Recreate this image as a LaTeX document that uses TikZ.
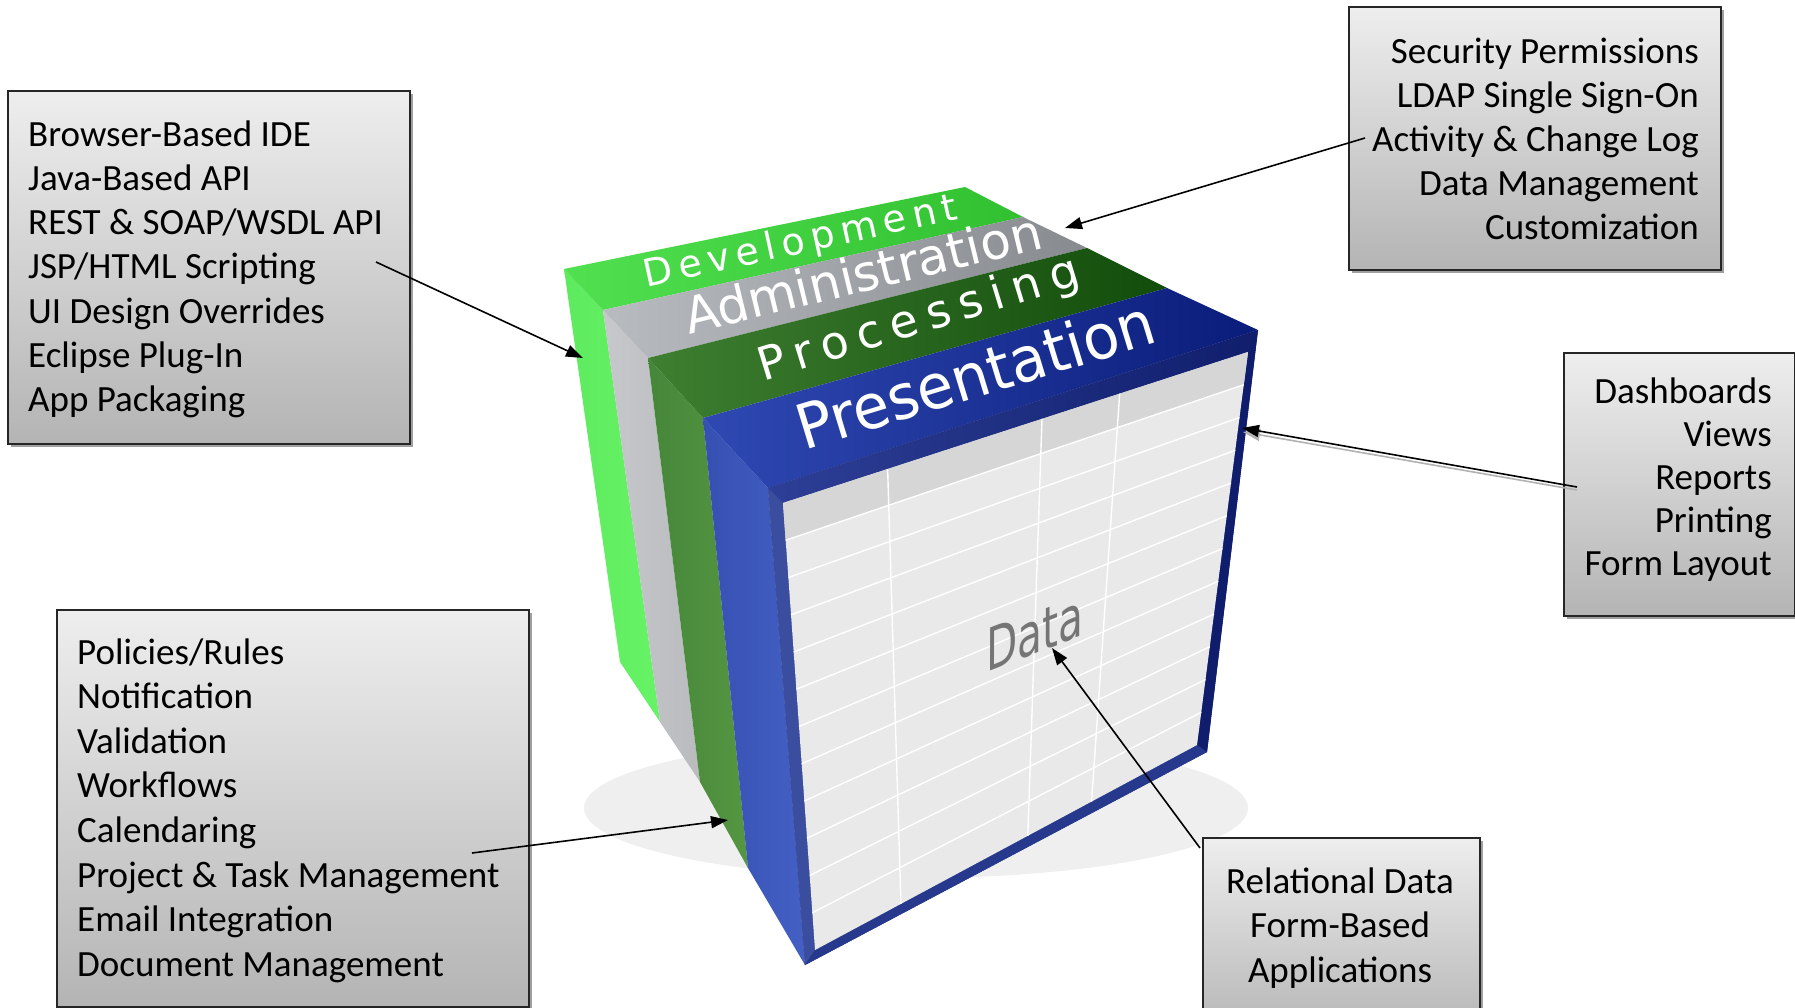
\documentclass[tikz,border=0pt]{standalone}
\usepackage{fontspec}
\setmainfont{Carlito}
\newfontfamily\cubefont{DejaVu Sans}
\newfontfamily\cubedev[LetterSpace=17]{DejaVu Sans}
\newfontfamily\cubeproc[LetterSpace=21]{DejaVu Sans}
\usetikzlibrary{arrows.meta,calc,shadows}
\definecolor{boxtop}{HTML}{EEEEEE}
\definecolor{boxbot}{HTML}{B4B4B4}
\definecolor{devtopA}{HTML}{50E050}
\definecolor{devtopB}{HTML}{30C030}
\definecolor{devsideA}{HTML}{5EEA5E}
\definecolor{devsideB}{HTML}{66F466}
\definecolor{admtopA}{HTML}{B8BBBF}
\definecolor{admtopB}{HTML}{878B8F}
\definecolor{admsideA}{HTML}{B9BBBF}
\definecolor{admsideB}{HTML}{C6C8CC}
\definecolor{proctopA}{HTML}{3E7F31}
\definecolor{proctopB}{HTML}{124C0B}
\definecolor{procsideA}{HTML}{46863A}
\definecolor{procsideB}{HTML}{559642}
\definecolor{prestopA}{HTML}{2F49B3}
\definecolor{prestopB}{HTML}{0A1C7A}
\definecolor{pressideA}{HTML}{3650B2}
\definecolor{pressideB}{HTML}{4460C4}
\definecolor{framenavy}{HTML}{1A2C80}
\definecolor{frametopA}{HTML}{2D3F96}
\definecolor{frametopB}{HTML}{101E6C}
\definecolor{frameleft}{HTML}{3A4D9F}
\definecolor{frameright}{HTML}{0F1D6C}
\definecolor{framebottom}{HTML}{26398C}
\definecolor{cellfill}{HTML}{E9E9E9}
\definecolor{headfill}{HTML}{D6D6D6}
\definecolor{datagray}{HTML}{757575}
\definecolor{floorshadow}{HTML}{EFEFEF}
\begin{document}
\begin{tikzpicture}[x=1pt,y=-1pt,
  infobox/.style={draw=black!85, line width=1.8pt, top color=boxtop, bottom color=boxbot,
    anchor=north west, inner sep=0pt,
    drop shadow={shadow xshift=3.5pt, shadow yshift=-3.5pt, fill=gray!75, opacity=1}},
  boxtext/.style={inner sep=0pt},
  conn/.style={line width=1.6pt, black, -{Triangle[length=17pt,width=12pt]}},
  connghost/.style={line width=1.6pt, gray!60, -{Triangle[length=17pt,width=12pt]}},
  cubelabel/.style={text=white, inner sep=0pt, anchor=base},
  gridline/.style={white, line width=1.4pt}]
\useasboundingbox (0,0) rectangle (1795,1007);
\fill[white] (0,0) rectangle (1795,1007);

% floor shadow
\fill[floorshadow] (916,808) ellipse [x radius=332pt, y radius=70pt];

% cube corner points
\coordinate (T0) at (564,269); \coordinate (T1) at (603,310);
\coordinate (T2) at (648,358); \coordinate (T3) at (703,418);
\coordinate (T4) at (768,488);
\coordinate (R0) at (965,187); \coordinate (R1) at (1023,217);
\coordinate (R2) at (1087,248); \coordinate (R3) at (1167,288);
\coordinate (R4) at (1258,330);
\coordinate (B0) at (620,662); \coordinate (B1) at (660,722);
\coordinate (B2) at (700,782); \coordinate (B3) at (748,868);
\coordinate (B4) at (805,965);
\coordinate (FBR) at (1207,752);
\coordinate (GTL) at (783,503); \coordinate (GTR) at (1248,352);
\coordinate (GBR) at (1197,745); \coordinate (GBL) at (815,950);

% left face bands
\shade[left color=devsideA, right color=devsideB] (T0) -- (T1) -- (B1) -- (B0) -- cycle;
\shade[left color=admsideB, right color=admsideA] (T1) -- (T2) -- (B2) -- (B1) -- cycle;
\shade[left color=procsideA, right color=procsideB] (T2) -- (T3) -- (B3) -- (B2) -- cycle;
\shade[left color=pressideA, right color=pressideB] (T3) -- (T4) -- (B4) -- (B3) -- cycle;

% top stripes
\shade[left color=devtopA, right color=devtopB] (T0) -- (R0) -- (R1) -- (T1) -- cycle;
\shade[left color=admtopA, right color=admtopB] (T1) -- (R1) -- (R2) -- (T2) -- cycle;
\shade[left color=proctopA, right color=proctopB] (T2) -- (R2) -- (R3) -- (T3) -- cycle;
\shade[left color=prestopA, right color=prestopB] (T3) -- (R3) -- (R4) -- (T4) -- cycle;

% front frame
\fill[framenavy] (T4) -- (R4) -- (FBR) -- (B4) -- cycle;
\shade[left color=frametopA, right color=frametopB] (T4) -- (R4) -- (GTR) -- (GTL) -- cycle;
\fill[frameleft] (T4) -- (GTL) -- (GBL) -- (B4) -- cycle;
\fill[frameright] (R4) -- (FBR) -- (GBR) -- (GTR) -- cycle;
\fill[framebottom] (GBL) -- (GBR) -- (FBR) -- (B4) -- cycle;

% data grid
\fill[cellfill] (GTL) -- (GTR) -- (GBR) -- (GBL) -- cycle;
\fill[headfill] (GTL) -- (GTR) -- ($(GTR)!{1/12}!(GBR)$) -- ($(GTL)!{1/12}!(GBL)$) -- cycle;
\foreach \k in {1,...,11} {
  \draw[gridline] ($(GTL)!{\k/12}!(GBL)$) -- ($(GTR)!{\k/12}!(GBR)$);
}
\foreach \u in {0.225,0.557,0.724} {
  \draw[gridline] ($(GTL)!\u!(GTR)$) -- ($(GBL)!\u!(GBR)$);
}

% cube labels
\node[cubelabel, font=\cubedev\fontsize{38}{38}\selectfont, rotate=12.3] (dev) at (803,253) {Development};
\node[cubelabel, font=\cubefont\fontsize{50}{50}\selectfont, rotate=13.7] (adm) at (867,291) {Administration};
\node[cubelabel, font=\cubeproc\fontsize{46}{46}\selectfont, rotate=17] (proc) at (923,333) {Processing};
\node[cubelabel, font=\cubefont\fontsize{62}{62}\selectfont, rotate=17, xscale=0.955] (pres) at (982,396) {Presentation};
\node[cubelabel, text=datagray, font=\cubefont\fontsize{55}{55}\selectfont, rotate=21, xscale=0.79, xslant=0.49] (data) at (1035,654) {Data};

% info boxes
\node[infobox, minimum width=402pt, minimum height=353pt] (b1) at (7,90) {};
\node[infobox, minimum width=372pt, minimum height=263pt] (b2) at (1348,6) {};
\node[infobox, minimum width=231pt, minimum height=263pt] (b3) at (1563,352) {};
\node[infobox, minimum width=472pt, minimum height=397pt] (b4) at (56,609) {};
\node[infobox, minimum width=277pt, minimum height=200pt] (b5) at (1202,837) {};

\node[boxtext, anchor=base west, font=\fontsize{37}{44.3}\selectfont] (t1) at (28,146)
  {\begin{tabular}[t]{@{}l@{}}Browser-Based IDE\\Java-Based API\\REST \& SOAP/WSDL API\\JSP/HTML Scripting\\UI Design Overrides\\Eclipse Plug-In\\App Packaging\end{tabular}};
\node[boxtext, anchor=base east, font=\fontsize{37}{44}\selectfont] (t2) at (1699,63)
  {\begin{tabular}[t]{@{}r@{}}Security Permissions\\LDAP Single Sign-On\\Activity \& Change Log\\Data Management\\Customization\end{tabular}};
\node[boxtext, anchor=base east, font=\fontsize{37}{43}\selectfont] (t3) at (1772,403)
  {\begin{tabular}[t]{@{}r@{}}Dashboards\\Views\\Reports\\Printing\\Form Layout\end{tabular}};
\node[boxtext, anchor=base west, font=\fontsize{37}{44.6}\selectfont] (t4) at (77,664)
  {\begin{tabular}[t]{@{}l@{}}Policies/Rules\\Notification\\Validation\\Workflows\\Calendaring\\Project \& Task Management\\Email Integration\\Document Management\end{tabular}};
\node[boxtext, anchor=base, font=\fontsize{37}{44.5}\selectfont] (t5) at (1340,893)
  {\begin{tabular}[t]{@{}c@{}}Relational Data\\Form-Based\\Applications\end{tabular}};

% connectors
\coordinate (a1s) at (376,262); \coordinate (a1e) at (583,358);
\coordinate (a2s) at (1365,138); \coordinate (a2e) at (1065,228);
\coordinate (a3s) at (1577,487); \coordinate (a3e) at (1242,428);
\coordinate (a3gs) at (1577,490); \coordinate (a3ge) at (1243,432);
\coordinate (a4s) at (472,853); \coordinate (a4e) at (728,820);
\coordinate (a5s) at (1200,848); \coordinate (a5e) at (1052,648);
\draw[conn] (a1s) -- (a1e);
\draw[conn] (a2s) -- (a2e);
\draw[connghost] (a3gs) -- (a3ge);
\draw[conn] (a3s) -- (a3e);
\draw[conn] (a4s) -- (a4e);
\draw[conn] (a5s) -- (a5e);
\end{tikzpicture}
\end{document}
